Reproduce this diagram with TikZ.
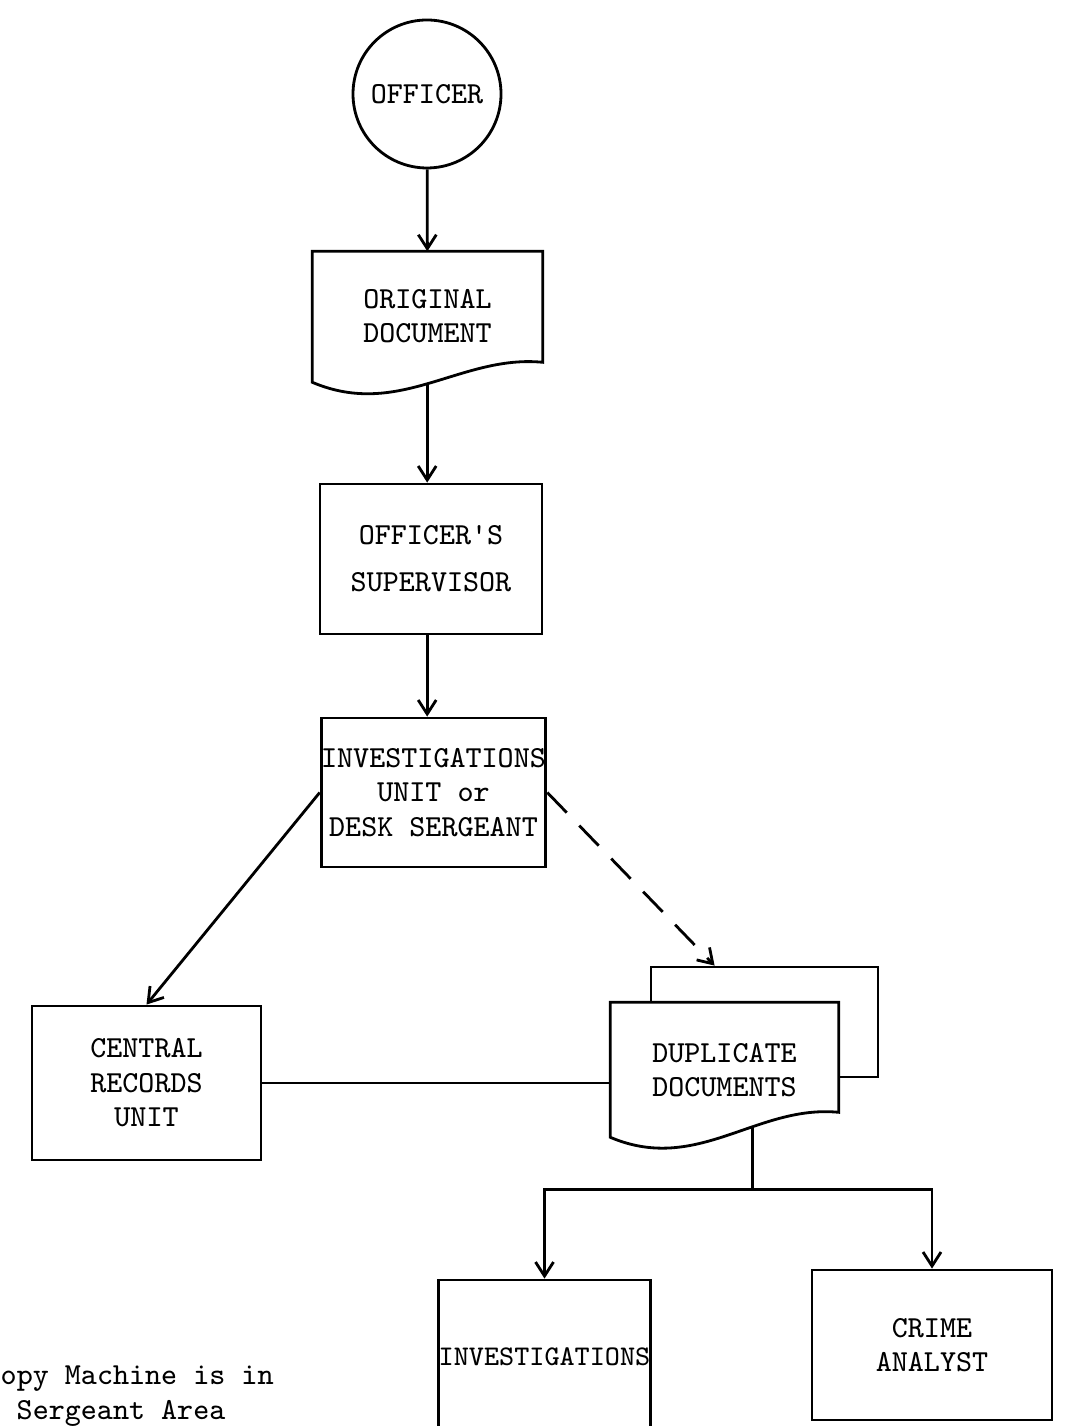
\documentclass[tikz,border=0pt]{standalone}
\usetikzlibrary{arrows.meta, positioning, calc, backgrounds}
\tikzset{
    flow/.style={line width=0.8pt},
    arr/.style={flow, -{Straight Barb[length=1.4mm,width=1.8mm]}},
    typed/.style={font=\ttfamily\fontsize{8.7pt}{9.8pt}\selectfont, align=center, inner sep=0pt},
    box/.style={typed, draw, flow, rectangle},
    docbox/.style={typed, rectangle},
}
% document symbol: straight top and sides, wavy bottom
\newcommand{\docoutline}[4]{%
    \draw[flow, fill=white] (#1.north west) -- (#1.north east)
        -- ($(#1.north east)+(0,#2)$)
        .. controls +(-82,-8) and +(87,37) .. ($(#1.north west)+(0,#3)$)
        coordinate[pos=#4] (#1out) -- cycle;}

\begin{document}
\begin{tikzpicture}[x=0.1mm, y=-0.1mm]
    \useasboundingbox (0,0) rectangle (1064,1426);

    % Main chain down the middle
    \node[circle, draw, flow, typed, minimum size=14.8mm] (officer) at (427,94) {OFFICER};
    \node[docbox, minimum width=22.9mm, minimum height=12.8mm] (orig) at (427.5,316) {ORIGINAL\\DOCUMENT};
    \node[box, minimum width=22.2mm, minimum height=15mm] (sup) at (431,559)
        {OFFICER\textquotesingle S\\[3.5pt]SUPERVISOR};
    \node[box, minimum width=22.3mm, minimum height=14.9mm] (inv) at (433.5,792.5)
        {INVESTIGATIONS\\UNIT or\\DESK SERGEANT};

    % Second row
    \node[box, minimum width=22.9mm, minimum height=15.4mm] (crec) at (146.5,1083) {CENTRAL\\RECORDS\\UNIT};
    \node[docbox, minimum width=22.7mm, minimum height=13.4mm] (dup) at (724.5,1070) {DUPLICATE\\DOCUMENTS};

    % Bottom row
    \node[box, minimum width=20.9mm, minimum height=15.4mm,
          font=\ttfamily\fontsize{8.1pt}{9.8pt}\selectfont] (invest) at (544.5,1357) {INVESTIGATIONS};
    \node[box, minimum width=24mm, minimum height=15mm] (crime) at (932,1345) {CRIME\\ANALYST};

    % Document outlines behind the text
    \begin{scope}[on background layer]
        \docoutline{orig}{111}{131}{0.51}
        \node[draw, flow, minimum width=22.7mm, minimum height=11mm] (dupback) at (764.5,1022) {};
        \docoutline{dup}{110}{135}{0.38}
    \end{scope}

    % Connectors
    \draw[arr] (officer) -- (orig);
    \draw[arr] (origout) -- (origout |- sup.north);
    \draw[arr] (sup.south -| origout) -- (inv.north -| origout);
    \draw[arr] (inv.west) -- (crec.north);
    \coordinate (dupin) at ($(dupback.north west)+(65,0)$);
    \draw[arr, dash pattern=on 2.8mm off 1.8mm] (inv.east) -- (dupin);
    \draw[flow] (crec.east) -- (crec.east -| dup.west);
    \draw[flow] (dupout) -- ++(0,63) coordinate (split);
    \draw[arr] (split) -| (invest.north);
    \draw[arr] (split) -| (crime.north);

    % Note, cut off at the page edge
    \node[typed, anchor=west, align=left] (note) at (0,1396)
        {opy Machine is in\\\hspace*{1.6mm}Sergeant Area};
\end{tikzpicture}
\end{document}
